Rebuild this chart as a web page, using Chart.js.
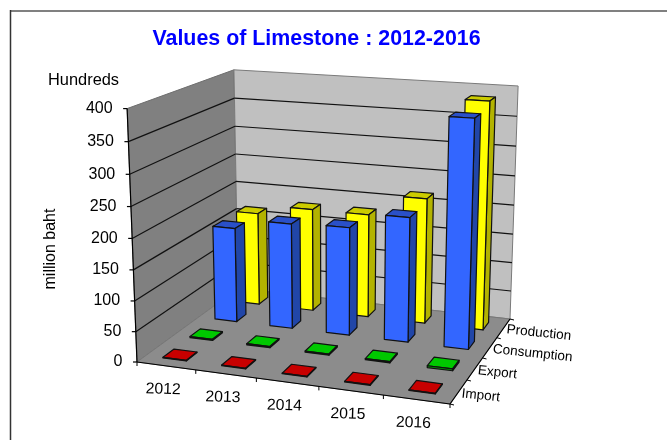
<!DOCTYPE html>
<html><head><meta charset="utf-8">
<style>html,body{margin:0;padding:0;background:#fff}canvas{display:block;filter:blur(0.35px)}</style>
<script src="https://cdn.jsdelivr.net/npm/chart.js@4/dist/chart.umd.min.js"></script>
</head><body><canvas id="c" width="667" height="440"></canvas>
<script>
const years = ['2012','2013','2014','2015','2016'];
const rows = ['Import','Export','Consumption','Production'];
const importValues = [1,1,1,1,1];
const exportValues = [2,2,2,2,3];
const consumptionValues = [163,180,183,209,375];
const productionValues = [164,180,180,216,385];
const yTicksMax = 400, yTicksStep = 50;
const titleText = 'Values of Limestone : 2012-2016';
const unitText = 'Hundreds';
const yAxisText = 'million baht';

// perspective anchors of the plot box
const F00=[137,362],F10=[450,404],F11=[510,319],F01=[238,288.5];
const TOPS=[[0,0,126,106],[0,1,235,72],[1,1,518,86]];
function makeProjection(){
  const [x0,y0]=F00,[x1,y1]=F10,[x2,y2]=F11,[x3,y3]=F01;
  const dx1=x1-x2,dx2=x3-x2,sx=x0-x1+x2-x3,dy1=y1-y2,dy2=y3-y2,sy=y0-y1+y2-y3;
  const det=dx1*dy2-dx2*dy1;
  const g=(sx*dy2-dx2*sy)/det,h=(dx1*sy-sx*dy1)/det;
  const a=x1-x0+g*x1,b=x3-x0+h*x3,c=x0,d=y1-y0+g*y1,e=y3-y0+h*y3,f=y0;
  let S=[[0,0,0,0],[0,0,0,0],[0,0,0,0]];
  const add=(r,t)=>{for(let i=0;i<3;i++){for(let j=0;j<3;j++)S[i][j]+=r[i]*r[j];S[i][3]+=r[i]*t;}};
  TOPS.forEach(([u,w,X,Y])=>{
    const q=g*u+h*w+1;
    add([1,0,-X],X*q-(a*u+b*w+c));
    add([0,1,-Y],Y*q-(d*u+e*w+f));
  });
  for(let i=0;i<3;i++){
    for(let k=i+1;k<3;k++){const m=S[k][i]/S[i][i];for(let j=i;j<4;j++)S[k][j]-=m*S[i][j];}
  }
  const s=[0,0,0];
  for(let i=2;i>=0;i--){let t=S[i][3];for(let j=i+1;j<3;j++)t-=S[i][j]*s[j];s[i]=t/S[i][i];}
  const [bx,by,bz]=s;
  return (u,v,w)=>{const q=g*u+h*w+1+bz*v;return [(a*u+b*w+c+bx*v)/q,(d*u+e*w+f+by*v)/q];};
}
const P=makeProjection();

function poly(ctx,pts,fill,stroke,lw){
  ctx.beginPath();pts.forEach((p,i)=>i?ctx.lineTo(p[0],p[1]):ctx.moveTo(p[0],p[1]));ctx.closePath();
  if(fill){ctx.fillStyle=fill;ctx.fill();}
  if(stroke){ctx.strokeStyle=stroke;ctx.lineWidth=lw||1;ctx.stroke();}
}
function line(ctx,a,b,col,lw){ctx.beginPath();ctx.moveTo(a[0],a[1]);ctx.lineTo(b[0],b[1]);ctx.strokeStyle=col;ctx.lineWidth=lw||1;ctx.stroke();}
function label(ctx,t,x,y,rot,align,font){
  ctx.save();ctx.translate(x,y);ctx.rotate(rot*Math.PI/180);ctx.font=font||'16px "Liberation Sans"';ctx.fillStyle='#000';
  ctx.textAlign=align||'center';ctx.textBaseline='middle';ctx.fillText(t,0,0);ctx.restore();
}
const box3d={
  id:'box3d',
  beforeDatasetsDraw(chart){
    const {ctx,scales}=chart,ys=scales.y,xs=scales.x,zs=scales.z;
    ctx.save();ctx.lineJoin='round';
    line(ctx,[10,11],[667,11],'#808080',2);
    line(ctx,[10.5,10],[10.5,440],'#333',1.5);
    const vOf=val=>(ys.bottom-ys.getPixelForValue(val))/(ys.bottom-ys.top);
    poly(ctx,[P(0,0,0),P(0,0,1),P(0,1,1),P(0,1,0)],'#808080','#6e6e6e');
    poly(ctx,[P(0,0,1),P(1,0,1),P(1,1,1),P(0,1,1)],'#c0c0c0','#7a7a7a');
    poly(ctx,[P(0,0,0),P(1,0,0),P(1,0,1),P(0,0,1)],'#8c8c8c','#777');
    ys.ticks.forEach(t=>{
      const v=vOf(t.value);
      if(t.value>0&&t.value<yTicksMax){
        line(ctx,P(0,v,0),P(0,v,1),'#111',1.2);
        line(ctx,P(0,v,1),P(1,v,1),'#111',1.2);
      }
      const p=P(0,v,0);
      line(ctx,[p[0]-4,p[1]],p,'#000',1.2);
      label(ctx,String(t.value),p[0]-14.5,p[1],0,'right');
    });
    line(ctx,P(0,0,0),P(0,1,0),'#000',1.2);
    line(ctx,P(0,0,0),P(1,0,0),'#000',1.2);
    line(ctx,P(1,0,0),P(1,0,1),'#000',1.2);
    const xw=xs.right-xs.left;
    for(let i=0;i<=years.length;i++){
      const u=i/years.length,p=P(u,0,0);
      line(ctx,p,[p[0],p[1]+4],'#000');
    }
    years.forEach((y,i)=>{
      const u=(xs.getPixelForValue(i)-xs.left)/xw,p=P(u,0,0);
      label(ctx,y,p[0]-3,p[1]+23.5,2,'center','15.8px "Liberation Sans"');
    });
    const zw=zs.right-zs.left;
    for(let i=0;i<=rows.length;i++){
      const w=i/rows.length,p=P(1,0,w);
      line(ctx,p,[p[0]+4,p[1]+1],'#000');
    }
    rows.forEach((r,i)=>{
      const w=(zs.getPixelForValue(i)-zs.left)/zw,p=P(1,0,w);
      label(ctx,r,p[0]+3,p[1]+2-i*0.2,6,'left','13.6px "Liberation Sans"');
    });
    label(ctx,unitText,48,80,0,'left','16.4px "Liberation Sans"');
    label(ctx,yAxisText,51,249,-90);
    ctx.restore();
  },
  beforeDatasetDraw(chart,args){
    const {ctx,scales}=chart,ys=scales.y,xs=scales.x,zs=scales.z;
    const ds=chart.data.datasets[args.index],meta=args.meta;
    const xw=xs.right-xs.left,zw=zs.right-zs.left;
    const rowIdx=rows.indexOf(ds.label);
    const wc=(zs.getPixelForValue(rowIdx)-zs.left)/zw;
    const wd=(1/rows.length)*ds.barPercentage/2;
    ctx.save();ctx.lineJoin='round';
    meta.data.forEach(el=>{
      const u0=(el.x-el.width/2-xs.left)/xw,u1=(el.x+el.width/2-xs.left)/xw;
      const v=(ys.bottom-el.y)/(ys.bottom-ys.top);
      const w0=wc-wd,w1=wc+wd;
      const s=ds.borderColor,lw=ds.borderWidth;
      poly(ctx,[P(u0,v,w0),P(u1,v,w0),P(u1,v,w1),P(u0,v,w1)],ds.topColor,s,lw);
      poly(ctx,[P(u1,0,w0),P(u1,0,w1),P(u1,v,w1),P(u1,v,w0)],ds.sideColor,s,lw);
      poly(ctx,[P(u0,0,w0),P(u1,0,w0),P(u1,v,w0),P(u0,v,w0)],ds.backgroundColor,s,lw);
    });
    ctx.restore();
    return false;
  }
};
const barShape={barPercentage:0.4,categoryPercentage:1,grouped:false,borderColor:'#111',borderWidth:1.2};
new Chart(document.getElementById('c'),{
  type:'bar',
  data:{labels:years,datasets:[
    {label:'Import',data:importValues,backgroundColor:'#c00000',topColor:'#c80000',sideColor:'#800000',...barShape},
    {label:'Export',data:exportValues,backgroundColor:'#00a000',topColor:'#00c800',sideColor:'#008000',...barShape},
    {label:'Consumption',data:consumptionValues,backgroundColor:'#3366ff',topColor:'#2a50c8',sideColor:'#2146a8',...barShape},
    {label:'Production',data:productionValues,backgroundColor:'#ffff00',topColor:'#cccc00',sideColor:'#b3b300',...barShape}
  ]},
  options:{
    responsive:false,animation:false,
    layout:{padding:{top:26,right:34,left:0,bottom:0}},
    plugins:{legend:{display:false},tooltip:{enabled:false},
      title:{display:true,text:titleText,color:'#0000ff',font:{family:'"Liberation Sans"',size:21.4,weight:'bold'},padding:{top:0,bottom:10}}},
    scales:{
      x:{type:'category',display:false,offset:true},
      z:{type:'category',axis:'x',labels:rows,display:false,offset:true},
      y:{type:'linear',display:false,min:0,max:yTicksMax,ticks:{stepSize:yTicksStep}}
    }
  },
  plugins:[box3d]
});
</script></body></html>
